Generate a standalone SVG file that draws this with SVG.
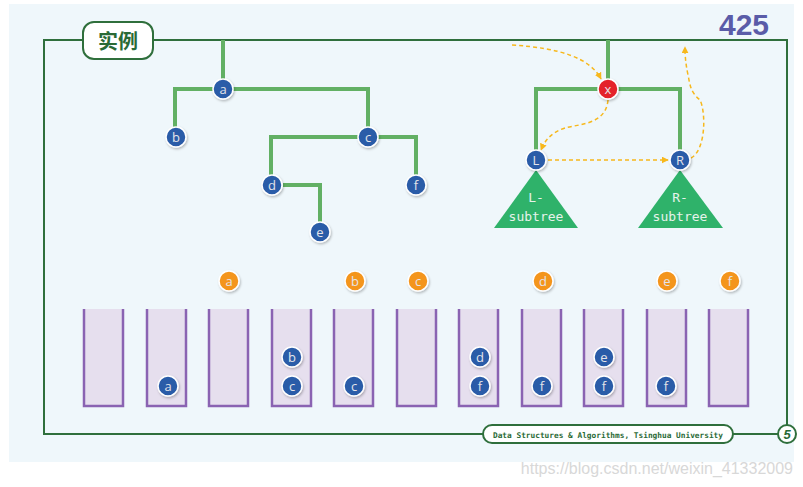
<svg xmlns="http://www.w3.org/2000/svg" width="803" height="487" viewBox="0 0 803 487">
<defs>
<style>
.frame{fill:none;stroke:#2f6f3c;stroke-width:2}
.edge{fill:none;stroke:#62b064;stroke-width:4;stroke-linejoin:miter}
.dash{fill:none;stroke:#f7b81c;stroke-width:1.5;stroke-dasharray:4 3}
.nb{fill:#2a5ba8;stroke:#ffffff;stroke-width:1.5}
.no{fill:#f4951e;stroke:#ffffff;stroke-width:1.5}
.nr{fill:#e4202a;stroke:#ffffff;stroke-width:1.5}
.lbl{font-family:"Open Sans","DejaVu Sans",sans-serif;font-size:13px;fill:#e4e4ea;text-anchor:middle}
.box{fill:#e6dfee}
.boxl{fill:none;stroke:#8a63b2;stroke-width:2.5}
.tri{fill:#2fb26a}
.tt{font-family:"DejaVu Sans Mono","Liberation Mono",monospace;font-size:13px;fill:#e6f2ea;text-anchor:middle}
</style>
<marker id="ah" viewBox="0 0 10 10" refX="9" refY="5" markerWidth="7" markerHeight="7" orient="auto-start-reverse" markerUnits="userSpaceOnUse">
<path d="M0,0 L10,5 L0,10 z" fill="#f7b81c"/>
</marker>
<filter id="sh" x="-20%" y="-20%" width="150%" height="150%">
<feDropShadow dx="1" dy="1.5" stdDeviation="1" flood-color="#000" flood-opacity="0.25"/>
</filter>
</defs>
<rect x="9" y="4" width="785" height="458" fill="#eff7fb"/>
<text x="744" y="35" font-family="'Liberation Sans',Arial,sans-serif" font-weight="bold" font-size="30" fill="#5a5ca8" text-anchor="middle">425</text>
<g id="frame">
<rect x="44" y="40" width="743" height="394" class="frame"/>
</g>
<g id="title">
<rect x="83" y="22" width="70" height="37" rx="11" fill="#ffffff" stroke="#2f6f3c" stroke-width="2"/>
<text x="118" y="49" font-family="'Noto Sans CJK SC',sans-serif" font-weight="bold" font-size="20" fill="#2a6a36" text-anchor="middle">实例</text>
</g>
<g id="connectors">
<path class="edge" d="M223,40 V89 M175,128 V89 H368 V128 M271,176 V137 H416 V176 M283,185 H320 V223"/>
<path class="edge" d="M608,40 V89 M536,151 V89 H680 V151"/>
<path class="dash" d="M512,45 C560,48 590,58 601,79" marker-end="url(#ah)"/>
<path class="dash" d="M608,100 C606,125 578,124 565,128 C552,132 545,140 541,150" marker-end="url(#ah)"/>
<path class="dash" d="M548,160 H668" marker-end="url(#ah)"/>
<path class="dash" d="M691,158 C706,150 706,112 700,100 C690,92 690,84 688,75 C686,65 685,58 685,47" marker-end="url(#ah)"/>
</g>
<g id="node-a"><circle cx="223" cy="89" r="10" class="nb" filter="url(#sh)"/><text x="223" y="94" class="lbl">a</text></g>
<g id="node-b"><circle cx="176" cy="137" r="10" class="nb" filter="url(#sh)"/><text x="176" y="142" class="lbl">b</text></g>
<g id="node-c"><circle cx="368" cy="137" r="10" class="nb" filter="url(#sh)"/><text x="368" y="142" class="lbl">c</text></g>
<g id="node-d"><circle cx="272" cy="185" r="10" class="nb" filter="url(#sh)"/><text x="272" y="190" class="lbl">d</text></g>
<g id="node-e"><circle cx="320" cy="232" r="10" class="nb" filter="url(#sh)"/><text x="320" y="237" class="lbl">e</text></g>
<g id="node-f"><circle cx="416" cy="185" r="10" class="nb" filter="url(#sh)"/><text x="416" y="190" class="lbl">f</text></g>
<g id="node-x"><circle cx="608" cy="89" r="10" class="nr" filter="url(#sh)"/><text x="608" y="94" class="lbl">x</text></g>
<g id="L-subtree"><path class="tri" d="M536,170 L578,228 H494 Z"/><text x="536" y="202" class="tt">L-</text><text x="536" y="221" class="tt">subtree</text></g>
<g id="R-subtree"><path class="tri" d="M680,170 L723,228 H638 Z"/><text x="680" y="202" class="tt">R-</text><text x="680" y="221" class="tt">subtree</text></g>
<g id="node-L"><circle cx="536" cy="160" r="10" class="nb" filter="url(#sh)"/><text x="536" y="165" class="lbl">L</text></g>
<g id="node-R"><circle cx="680" cy="160" r="10" class="nb" filter="url(#sh)"/><text x="680" y="165" class="lbl">R</text></g>
<g id="visit-order">
<circle cx="229" cy="281" r="10" class="no" filter="url(#sh)"/><text x="229" y="286" class="lbl">a</text>
<circle cx="355" cy="281" r="10" class="no" filter="url(#sh)"/><text x="355" y="286" class="lbl">b</text>
<circle cx="418" cy="281" r="10" class="no" filter="url(#sh)"/><text x="418" y="286" class="lbl">c</text>
<circle cx="543" cy="281" r="10" class="no" filter="url(#sh)"/><text x="543" y="286" class="lbl">d</text>
<circle cx="667" cy="281" r="10" class="no" filter="url(#sh)"/><text x="667" y="286" class="lbl">e</text>
<circle cx="730" cy="281" r="10" class="no" filter="url(#sh)"/><text x="730" y="286" class="lbl">f</text>
</g>
<g id="stacks">
<g id="stack-1"><rect x="84" y="309" width="39" height="97" class="box"/><path d="M84,309 V406 H123 V309" class="boxl"/></g>
<g id="stack-2"><rect x="147" y="309" width="39" height="97" class="box"/><path d="M147,309 V406 H186 V309" class="boxl"/></g>
<g id="stack-3"><rect x="209" y="309" width="39" height="97" class="box"/><path d="M209,309 V406 H248 V309" class="boxl"/></g>
<g id="stack-4"><rect x="272" y="309" width="39" height="97" class="box"/><path d="M272,309 V406 H311 V309" class="boxl"/></g>
<g id="stack-5"><rect x="334" y="309" width="39" height="97" class="box"/><path d="M334,309 V406 H373 V309" class="boxl"/></g>
<g id="stack-6"><rect x="397" y="309" width="39" height="97" class="box"/><path d="M397,309 V406 H436 V309" class="boxl"/></g>
<g id="stack-7"><rect x="459" y="309" width="39" height="97" class="box"/><path d="M459,309 V406 H498 V309" class="boxl"/></g>
<g id="stack-8"><rect x="522" y="309" width="39" height="97" class="box"/><path d="M522,309 V406 H561 V309" class="boxl"/></g>
<g id="stack-9"><rect x="584" y="309" width="39" height="97" class="box"/><path d="M584,309 V406 H623 V309" class="boxl"/></g>
<g id="stack-10"><rect x="647" y="309" width="39" height="97" class="box"/><path d="M647,309 V406 H686 V309" class="boxl"/></g>
<g id="stack-11"><rect x="709" y="309" width="39" height="97" class="box"/><path d="M709,309 V406 H748 V309" class="boxl"/></g>
</g>
<g id="stack-items">
<circle cx="168" cy="386" r="10" class="nb" filter="url(#sh)"/><text x="168" y="391" class="lbl">a</text>
<circle cx="292" cy="357" r="10" class="nb" filter="url(#sh)"/><text x="292" y="362" class="lbl">b</text>
<circle cx="292" cy="386" r="10" class="nb" filter="url(#sh)"/><text x="292" y="391" class="lbl">c</text>
<circle cx="354" cy="386" r="10" class="nb" filter="url(#sh)"/><text x="354" y="391" class="lbl">c</text>
<circle cx="480" cy="357" r="10" class="nb" filter="url(#sh)"/><text x="480" y="362" class="lbl">d</text>
<circle cx="480" cy="386" r="10" class="nb" filter="url(#sh)"/><text x="480" y="391" class="lbl">f</text>
<circle cx="542" cy="386" r="10" class="nb" filter="url(#sh)"/><text x="542" y="391" class="lbl">f</text>
<circle cx="604" cy="357" r="10" class="nb" filter="url(#sh)"/><text x="604" y="362" class="lbl">e</text>
<circle cx="604" cy="386" r="10" class="nb" filter="url(#sh)"/><text x="604" y="391" class="lbl">f</text>
<circle cx="666" cy="386" r="10" class="nb" filter="url(#sh)"/><text x="666" y="391" class="lbl">f</text>
</g>
<g id="footer">
<rect x="483" y="425" width="250" height="18" rx="9" fill="#ffffff" stroke="#2f6f3c" stroke-width="2"/>
<text x="608" y="437.5" font-family="'DejaVu Sans Mono','Liberation Mono',monospace" font-weight="bold" font-size="7.8" fill="#2a6a36" text-anchor="middle">Data Structures &amp; Algorithms, Tsinghua University</text>
<circle cx="787" cy="434" r="9" fill="#ffffff" stroke="#2f6f3c" stroke-width="2"/>
<text x="787" y="439" font-family="'Liberation Sans',sans-serif" font-weight="bold" font-style="italic" font-size="13" fill="#2a6a36" text-anchor="middle">5</text>
</g>
<text x="793" y="474" font-family="'Liberation Sans',Arial,sans-serif" font-size="16" fill="#d8d8d8" text-anchor="end">https://blog.csdn.net/weixin_41332009</text>
</svg>
